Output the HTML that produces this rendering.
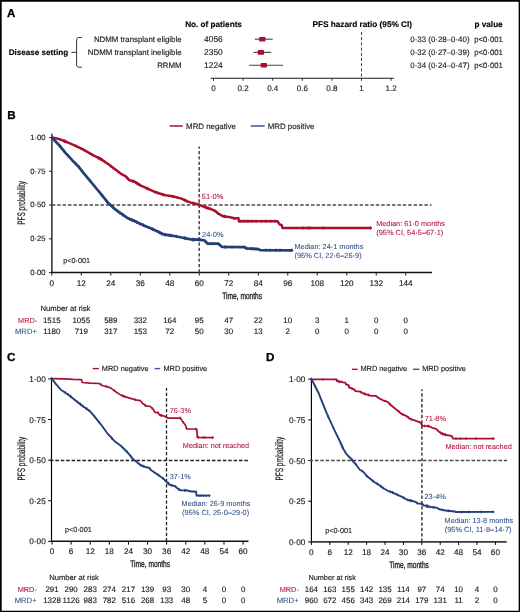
<!DOCTYPE html>
<html><head><meta charset="utf-8"><title>MRD PFS figure</title>
<style>
html,body{margin:0;padding:0;background:#fff;}
body{width:520px;height:612px;overflow:hidden;}
svg{display:block;font-family:"Liberation Sans", sans-serif;will-change:transform;text-rendering:geometricPrecision;}
</style></head>
<body>
<svg width="520" height="612" viewBox="0 0 520 612">
<rect width="520" height="612" fill="#fff"/>
<path d="M0,0H520V612H0Z M1.7,1.7V610.65H518.65V1.7Z" fill="#000" fill-rule="evenodd"/>
<text x="7.0" y="17.0" font-size="11.6" text-anchor="start" font-weight="bold" fill="#000" stroke="#000" stroke-width="0.3">A</text>
<text x="7.3" y="118.8" font-size="11.6" text-anchor="start" font-weight="bold" fill="#000" stroke="#000" stroke-width="0.3">B</text>
<text x="7.0" y="361.3" font-size="11.6" text-anchor="start" font-weight="bold" fill="#000" stroke="#000" stroke-width="0.3">C</text>
<text x="265.9" y="361.3" font-size="11.6" text-anchor="start" font-weight="bold" fill="#000" stroke="#000" stroke-width="0.3">D</text>
<text x="185.16" y="27.0" font-size="8.19" text-anchor="start" font-weight="bold" fill="#000"  stroke="#000" stroke-width="0.14">No. of patients</text>
<text x="312.46" y="27.0" font-size="8.23" text-anchor="start" font-weight="bold" fill="#000"  stroke="#000" stroke-width="0.14">PFS hazard ratio (95% CI)</text>
<text x="474.56" y="26.8" font-size="8.16" text-anchor="start" font-weight="bold" fill="#000"  stroke="#000" stroke-width="0.14">p value</text>
<text x="8.66" y="54.9" font-size="8.12" text-anchor="start" font-weight="bold" fill="#000"  stroke="#000" stroke-width="0.14">Disease setting</text>
<text x="181.55" y="41.6" font-size="7.85" text-anchor="end" font-weight="normal" fill="#1a1a1a"  stroke="#1a1a1a" stroke-width="0.14">NDMM transplant eligible</text>
<text x="204.1" y="41.6" font-size="8.4" text-anchor="start" font-weight="normal" fill="#1a1a1a"  stroke="#1a1a1a" stroke-width="0.14">4056</text>
<text x="410.3" y="42.2" font-size="7.9" text-anchor="start" font-weight="normal" fill="#1a1a1a"  stroke="#1a1a1a" stroke-width="0.14">0·33 (0·28–0·40)</text>
<text x="474.2" y="42.2" font-size="7.78" text-anchor="start" font-weight="normal" fill="#1a1a1a"  stroke="#1a1a1a" stroke-width="0.14">p&lt;0·001</text>
<line x1="254.94" y1="39.2" x2="272.7" y2="39.2" stroke="#444" stroke-width="1.1" />
<rect x="259.1" y="36.9" width="6.4" height="4.6" rx="0.8" fill="#a8102f"/>
<text x="181.55" y="54.8" font-size="7.85" text-anchor="end" font-weight="normal" fill="#1a1a1a"  stroke="#1a1a1a" stroke-width="0.14">NDMM transplant ineligible</text>
<text x="204.1" y="54.8" font-size="8.4" text-anchor="start" font-weight="normal" fill="#1a1a1a"  stroke="#1a1a1a" stroke-width="0.14">2350</text>
<text x="410.3" y="55.4" font-size="7.9" text-anchor="start" font-weight="normal" fill="#1a1a1a"  stroke="#1a1a1a" stroke-width="0.14">0·32 (0·27–0·39)</text>
<text x="474.2" y="55.4" font-size="7.78" text-anchor="start" font-weight="normal" fill="#1a1a1a"  stroke="#1a1a1a" stroke-width="0.14">p&lt;0·001</text>
<line x1="253.46" y1="52.4" x2="271.22" y2="52.4" stroke="#444" stroke-width="1.1" />
<rect x="257.7" y="50.1" width="6.4" height="4.6" rx="0.8" fill="#a8102f"/>
<text x="181.55" y="67.7" font-size="7.85" text-anchor="end" font-weight="normal" fill="#1a1a1a"  stroke="#1a1a1a" stroke-width="0.14">RRMM</text>
<text x="204.1" y="67.7" font-size="8.4" text-anchor="start" font-weight="normal" fill="#1a1a1a"  stroke="#1a1a1a" stroke-width="0.14">1224</text>
<text x="410.3" y="68.3" font-size="7.9" text-anchor="start" font-weight="normal" fill="#1a1a1a"  stroke="#1a1a1a" stroke-width="0.14">0·34 (0·24–0·47)</text>
<text x="474.2" y="68.3" font-size="7.78" text-anchor="start" font-weight="normal" fill="#1a1a1a"  stroke="#1a1a1a" stroke-width="0.14">p&lt;0·001</text>
<line x1="249.01999999999998" y1="65.3" x2="283.06" y2="65.3" stroke="#444" stroke-width="1.1" />
<rect x="260.6" y="63.0" width="6.4" height="4.6" rx="0.8" fill="#a8102f"/>
<path d="M81.9,37.5 H78.8 Q76.6,37.5 76.6,39.7 V65.0 Q76.6,67.2 78.8,67.2 H81.9 M71.4,52.3 H76.6" fill="none" stroke="#333" stroke-width="1"/>
<line x1="210.6" y1="78.2" x2="393.8" y2="78.2" stroke="#1a1a1a" stroke-width="1.1" />
<line x1="213.5" y1="78.2" x2="213.5" y2="80.8" stroke="#1a1a1a" stroke-width="0.9" />
<text x="213.5" y="91.3" font-size="8.0" text-anchor="middle" font-weight="normal" fill="#1a1a1a"  stroke="#1a1a1a" stroke-width="0.14">0</text>
<line x1="243.1" y1="78.2" x2="243.1" y2="80.8" stroke="#1a1a1a" stroke-width="0.9" />
<text x="243.1" y="91.3" font-size="8.0" text-anchor="middle" font-weight="normal" fill="#1a1a1a"  stroke="#1a1a1a" stroke-width="0.14">0.2</text>
<line x1="272.7" y1="78.2" x2="272.7" y2="80.8" stroke="#1a1a1a" stroke-width="0.9" />
<text x="272.7" y="91.3" font-size="8.0" text-anchor="middle" font-weight="normal" fill="#1a1a1a"  stroke="#1a1a1a" stroke-width="0.14">0.4</text>
<line x1="302.3" y1="78.2" x2="302.3" y2="80.8" stroke="#1a1a1a" stroke-width="0.9" />
<text x="302.3" y="91.3" font-size="8.0" text-anchor="middle" font-weight="normal" fill="#1a1a1a"  stroke="#1a1a1a" stroke-width="0.14">0.6</text>
<line x1="331.9" y1="78.2" x2="331.9" y2="80.8" stroke="#1a1a1a" stroke-width="0.9" />
<text x="331.9" y="91.3" font-size="8.0" text-anchor="middle" font-weight="normal" fill="#1a1a1a"  stroke="#1a1a1a" stroke-width="0.14">0.8</text>
<line x1="361.5" y1="78.2" x2="361.5" y2="80.8" stroke="#1a1a1a" stroke-width="0.9" />
<text x="361.5" y="91.3" font-size="8.0" text-anchor="middle" font-weight="normal" fill="#1a1a1a"  stroke="#1a1a1a" stroke-width="0.14">1</text>
<line x1="391.1" y1="78.2" x2="391.1" y2="80.8" stroke="#1a1a1a" stroke-width="0.9" />
<text x="391.1" y="91.3" font-size="8.0" text-anchor="middle" font-weight="normal" fill="#1a1a1a"  stroke="#1a1a1a" stroke-width="0.14">1.2</text>
<line x1="361.5" y1="32" x2="361.5" y2="78" stroke="#2a2a2a" stroke-width="0.9" stroke-dasharray="3,2.2"/>
<line x1="51.9" y1="133.7" x2="51.9" y2="273.1" stroke="#1c1c1c" stroke-width="1.4" />
<line x1="49.1" y1="137.5" x2="51.9" y2="137.5" stroke="#1c1c1c" stroke-width="1" />
<text x="45.6" y="139.9" font-size="7.7" text-anchor="end" font-weight="normal" fill="#1a1a1a"  stroke="#1a1a1a" stroke-width="0.14">1·00</text>
<line x1="49.1" y1="171.275" x2="51.9" y2="171.275" stroke="#1c1c1c" stroke-width="1" />
<text x="45.6" y="173.675" font-size="7.7" text-anchor="end" font-weight="normal" fill="#1a1a1a"  stroke="#1a1a1a" stroke-width="0.14">0·75</text>
<line x1="49.1" y1="205.05" x2="51.9" y2="205.05" stroke="#1c1c1c" stroke-width="1" />
<text x="45.6" y="207.45000000000002" font-size="7.7" text-anchor="end" font-weight="normal" fill="#1a1a1a"  stroke="#1a1a1a" stroke-width="0.14">0·50</text>
<line x1="49.1" y1="238.82500000000002" x2="51.9" y2="238.82500000000002" stroke="#1c1c1c" stroke-width="1" />
<text x="45.6" y="241.22500000000002" font-size="7.7" text-anchor="end" font-weight="normal" fill="#1a1a1a"  stroke="#1a1a1a" stroke-width="0.14">0·25</text>
<line x1="49.1" y1="272.6" x2="51.9" y2="272.6" stroke="#1c1c1c" stroke-width="1" />
<text x="45.6" y="275.0" font-size="7.7" text-anchor="end" font-weight="normal" fill="#1a1a1a"  stroke="#1a1a1a" stroke-width="0.14">0·00</text>
<line x1="51.4" y1="272.6" x2="432" y2="272.6" stroke="#111" stroke-width="1.5" />
<line x1="51.8" y1="272.6" x2="51.8" y2="275.6" stroke="#1c1c1c" stroke-width="1" />
<text x="51.8" y="286.1" font-size="8.2" text-anchor="middle" font-weight="normal" fill="#1a1a1a"  stroke="#1a1a1a" stroke-width="0.14">0</text>
<line x1="81.29599999999999" y1="272.6" x2="81.29599999999999" y2="275.6" stroke="#1c1c1c" stroke-width="1" />
<text x="81.29599999999999" y="286.1" font-size="8.2" text-anchor="middle" font-weight="normal" fill="#1a1a1a"  stroke="#1a1a1a" stroke-width="0.14">12</text>
<line x1="110.792" y1="272.6" x2="110.792" y2="275.6" stroke="#1c1c1c" stroke-width="1" />
<text x="110.792" y="286.1" font-size="8.2" text-anchor="middle" font-weight="normal" fill="#1a1a1a"  stroke="#1a1a1a" stroke-width="0.14">24</text>
<line x1="140.288" y1="272.6" x2="140.288" y2="275.6" stroke="#1c1c1c" stroke-width="1" />
<text x="140.288" y="286.1" font-size="8.2" text-anchor="middle" font-weight="normal" fill="#1a1a1a"  stroke="#1a1a1a" stroke-width="0.14">36</text>
<line x1="169.784" y1="272.6" x2="169.784" y2="275.6" stroke="#1c1c1c" stroke-width="1" />
<text x="169.784" y="286.1" font-size="8.2" text-anchor="middle" font-weight="normal" fill="#1a1a1a"  stroke="#1a1a1a" stroke-width="0.14">48</text>
<line x1="199.28000000000003" y1="272.6" x2="199.28000000000003" y2="275.6" stroke="#1c1c1c" stroke-width="1" />
<text x="199.28000000000003" y="286.1" font-size="8.2" text-anchor="middle" font-weight="normal" fill="#1a1a1a"  stroke="#1a1a1a" stroke-width="0.14">60</text>
<line x1="228.776" y1="272.6" x2="228.776" y2="275.6" stroke="#1c1c1c" stroke-width="1" />
<text x="228.776" y="286.1" font-size="8.2" text-anchor="middle" font-weight="normal" fill="#1a1a1a"  stroke="#1a1a1a" stroke-width="0.14">72</text>
<line x1="258.272" y1="272.6" x2="258.272" y2="275.6" stroke="#1c1c1c" stroke-width="1" />
<text x="258.272" y="286.1" font-size="8.2" text-anchor="middle" font-weight="normal" fill="#1a1a1a"  stroke="#1a1a1a" stroke-width="0.14">84</text>
<line x1="287.76800000000003" y1="272.6" x2="287.76800000000003" y2="275.6" stroke="#1c1c1c" stroke-width="1" />
<text x="287.76800000000003" y="286.1" font-size="8.2" text-anchor="middle" font-weight="normal" fill="#1a1a1a"  stroke="#1a1a1a" stroke-width="0.14">96</text>
<line x1="317.264" y1="272.6" x2="317.264" y2="275.6" stroke="#1c1c1c" stroke-width="1" />
<text x="317.264" y="286.1" font-size="8.2" text-anchor="middle" font-weight="normal" fill="#1a1a1a"  stroke="#1a1a1a" stroke-width="0.14">108</text>
<line x1="346.76000000000005" y1="272.6" x2="346.76000000000005" y2="275.6" stroke="#1c1c1c" stroke-width="1" />
<text x="346.76000000000005" y="286.1" font-size="8.2" text-anchor="middle" font-weight="normal" fill="#1a1a1a"  stroke="#1a1a1a" stroke-width="0.14">120</text>
<line x1="376.25600000000003" y1="272.6" x2="376.25600000000003" y2="275.6" stroke="#1c1c1c" stroke-width="1" />
<text x="376.25600000000003" y="286.1" font-size="8.2" text-anchor="middle" font-weight="normal" fill="#1a1a1a"  stroke="#1a1a1a" stroke-width="0.14">132</text>
<line x1="405.752" y1="272.6" x2="405.752" y2="275.6" stroke="#1c1c1c" stroke-width="1" />
<text x="405.752" y="286.1" font-size="8.2" text-anchor="middle" font-weight="normal" fill="#1a1a1a"  stroke="#1a1a1a" stroke-width="0.14">144</text>
<line x1="51.8" y1="204.9" x2="431.5" y2="204.9" stroke="#484848" stroke-width="1.5" stroke-dasharray="3.5,1.9"/>
<line x1="199.2" y1="272.6" x2="199.2" y2="146.5" stroke="#484848" stroke-width="1.5" stroke-dasharray="3.3,2.08"/>
<text transform="translate(242.2,298.6) scale(0.71,1)" x="0" y="0" font-size="9.3" text-anchor="middle" fill="#1a1a1a" stroke="#1a1a1a" stroke-width="0.32">Time, months</text>
<text transform="translate(24.5,202.9) rotate(-90) scale(0.60,1)" x="0" y="0" font-size="10.8" text-anchor="middle" fill="#1a1a1a" stroke="#1a1a1a" stroke-width="0.22">PFS probability</text>
<line x1="169.6" y1="126.0" x2="182.7" y2="126.0" stroke="#a8102f" stroke-width="1.5" />
<text x="186.12" y="128.5" font-size="7.86" text-anchor="start" font-weight="normal" fill="#1a1a1a"  stroke="#1a1a1a" stroke-width="0.14">MRD negative</text>
<line x1="250.8" y1="126.0" x2="264.7" y2="126.0" stroke="#34528f" stroke-width="1.5" />
<text x="267.72" y="128.5" font-size="7.86" text-anchor="start" font-weight="normal" fill="#1a1a1a"  stroke="#1a1a1a" stroke-width="0.14">MRD positive</text>
<polyline points="52.0,137.6 56.0,138.3 60.1,139.4 68.2,142.7 76.2,146.1 84.3,150.1 92.4,154.8 100.5,158.9 108.5,164.3 115.3,169.6 122.0,174.4 125.4,176.2 129.2,180.0 131.2,180.8 134.2,181.5 140.4,185.4 148.1,188.9 155.8,192.3 163.5,194.8 167.3,195.6 173.8,196.6 181.5,198.6 186.2,200.8 190.8,202.6 196.9,204.0 200.4,205.4 204.2,206.9 210.4,208.9 215.0,210.8 218.1,213.5 222.7,216.2 228.8,216.9 235.0,218.5 236.9,218.1 238.5,218.3 238.8,221.2 277.5,221.2 278.5,222.7 279.6,224.4 281.7,225.2 282.5,227.9 370.8,228.1" fill="none" stroke="#a8102f" stroke-width="2.5" stroke-linejoin="round" stroke-linecap="round"/>
<polyline points="52.0,137.8 58.7,144.7 65.5,152.8 72.2,160.2 78.9,167.0 83.0,172.3 89.7,180.4 96.4,188.5 103.1,196.6 108.5,203.3 115.3,209.4 119.2,212.3 122.0,214.2 126.9,217.7 130.7,219.4 134.6,221.0 138.5,223.0 142.3,224.8 146.2,226.5 150.0,228.1 153.9,229.8 157.7,231.5 160.6,233.0 163.5,234.4 168.3,235.1 173.1,235.8 182.7,237.7 192.3,239.6 199.0,239.6 204.2,240.3 206.5,242.5 207.7,243.7 218.1,243.7 220.4,245.4 222.1,247.0 244.6,247.2 246.3,248.4 258.5,249.1 260.0,250.1 292.0,250.3" fill="none" stroke="#233f78" stroke-width="2.7" stroke-linejoin="round" stroke-linecap="round"/>
<path d="M60.4,137.9V141.1M63.8,139.3V142.5M64.5,139.6V142.8M65.0,139.8V143.0M65.1,139.8V143.0M65.4,139.9V143.1M66.0,140.2V143.4M76.4,144.6V147.8M81.2,146.9V150.1M83.5,148.1V151.3M92.5,153.3V156.5M97.9,156.0V159.2M98.3,156.2V159.4M98.8,156.4V159.6M100.0,157.1V160.3M100.4,157.3V160.5M100.8,157.5V160.7M102.5,158.6V161.8M104.6,160.1V163.3M110.7,164.4V167.6M113.1,166.3V169.5M118.2,170.1V173.3M126.7,175.9V179.1M132.5,179.5V182.7M133.9,179.8V183.0M133.9,179.8V183.0M135.7,180.9V184.1M136.6,181.4V184.6M137.9,182.3V185.5M138.7,182.7V185.9M140.4,183.8V187.0M146.7,186.7V189.9M146.8,186.7V189.9M148.4,187.4V190.6M154.7,190.2V193.4M157.4,191.2V194.4M162.8,193.0V196.2M163.1,193.1V196.3M172.4,194.8V198.0M174.0,195.1V198.3M177.3,195.9V199.1M184.5,198.4V201.6M186.3,199.2V202.4M186.3,199.2V202.4M193.4,201.6V204.8M193.7,201.7V204.9M198.0,202.9V206.1M199.5,203.5V206.7M205.3,205.6V208.8M206.3,206.0V209.2M206.6,206.1V209.3M208.1,206.6V209.8M208.3,206.6V209.8M210.5,207.3V210.5M214.4,209.0V212.2M217.7,211.6V214.8M223.9,214.7V217.9M224.4,214.8V218.0M225.4,214.9V218.1M233.7,216.6V219.8" stroke="#a8102f" stroke-width="0.9" fill="none"/>
<path d="M239.0,219.5V222.9M241.0,219.5V222.9M244.0,219.5V222.9M247.0,219.5V222.9M249.0,219.5V222.9M252.0,219.5V222.9M256.0,219.5V222.9M262.0,219.5V222.9M266.0,219.5V222.9M271.0,219.5V222.9M275.0,219.5V222.9M302.8,226.2V229.6M308.0,226.3V229.7M310.0,226.3V229.7M323.0,226.3V229.7M370.3,226.4V229.8" stroke="#a8102f" stroke-width="0.9" fill="none"/>
<path d="M59.4,143.9V147.3M60.0,144.5V147.9M61.2,145.9V149.3M64.1,149.5V152.9M68.2,154.1V157.5M75.7,162.0V165.4M78.8,165.2V168.6M79.2,165.7V169.1M82.2,169.5V172.9M90.0,179.1V182.5M94.6,184.7V188.1M100.4,191.6V195.0M101.9,193.4V196.8M102.8,194.6V198.0M106.9,199.7V203.1M110.7,203.6V207.0M112.7,205.3V208.7M118.0,209.7V213.1M120.1,211.2V214.6M122.4,212.8V216.2M122.9,213.2V216.6M129.5,217.2V220.6M131.7,218.1V221.5M132.4,218.4V221.8M134.4,219.2V222.6M136.7,220.4V223.8M139.7,221.9V225.3M143.3,223.5V226.9M143.4,223.6V227.0M152.4,227.5V230.9M153.1,227.8V231.2M159.0,230.5V233.9M160.1,231.0V234.4M161.8,231.9V235.3M162.0,232.0V235.4M164.6,232.9V236.3M165.9,233.0V236.4M169.7,233.6V237.0M170.7,233.8V237.2M176.3,234.7V238.1M184.4,236.3V239.7M184.7,236.4V239.8M186.5,236.8V240.2M192.5,237.9V241.3M192.7,237.9V241.3M193.7,237.9V241.3M194.5,237.9V241.3M197.3,237.9V241.3M199.3,237.9V241.3M199.8,238.0V241.4" stroke="#233f78" stroke-width="0.9" fill="none"/>
<path d="M206.0,240.3V243.7M211.0,242.0V245.4M214.0,242.0V245.4M219.0,242.7V246.1M224.5,245.3V248.7M226.5,245.3V248.7M232.0,245.4V248.8M244.6,245.5V248.9M247.0,246.7V250.1M251.0,247.0V250.4M253.0,247.1V250.5M256.0,247.3V250.7M266.0,248.4V251.8M270.0,248.5V251.9M276.0,248.5V251.9M280.0,248.5V251.9M291.5,248.6V252.0" stroke="#233f78" stroke-width="0.9" fill="none"/>
<text x="201.85" y="199.2" font-size="7.45" text-anchor="start" font-weight="normal" fill="#b3133c"  stroke="#b3133c" stroke-width="0.07">51·0%</text>
<text x="202.08" y="236.5" font-size="7.45" text-anchor="start" font-weight="normal" fill="#32508c"  stroke="#32508c" stroke-width="0.07">24·0%</text>
<text x="376.16" y="226.0" font-size="7.33" text-anchor="start" font-weight="normal" fill="#b3133c"  stroke="#b3133c" stroke-width="0.07">Median: 61·0 months</text>
<text x="376.2" y="235.2" font-size="7.42" text-anchor="start" font-weight="normal" fill="#b3133c"  stroke="#b3133c" stroke-width="0.07">(95% CI, 54·5–67·1)</text>
<text x="294.47" y="249.0" font-size="7.33" text-anchor="start" font-weight="normal" fill="#32508c"  stroke="#32508c" stroke-width="0.07">Median: 24·1 months</text>
<text x="294.5" y="257.7" font-size="7.42" text-anchor="start" font-weight="normal" fill="#32508c"  stroke="#32508c" stroke-width="0.07">(95% CI, 22·6–26·9)</text>
<text x="63.21" y="262.8" font-size="7.27" text-anchor="start" font-weight="normal" fill="#1a1a1a"  stroke="#1a1a1a" stroke-width="0.14">p&lt;0·001</text>
<text x="40.43" y="311.3" font-size="7.7" text-anchor="start" font-weight="normal" fill="#1a1a1a"  stroke="#1a1a1a" stroke-width="0.14">Number at risk</text>
<text x="18.1" y="322.7" font-size="7.3" text-anchor="start" font-weight="normal" fill="#b3133c"  stroke="#b3133c" stroke-width="0.07">MRD-</text>
<text x="15.0" y="334.2" font-size="7.65" text-anchor="start" font-weight="normal" fill="#32508c"  stroke="#32508c" stroke-width="0.07">MRD+</text>
<text x="51.8" y="322.7" font-size="7.95" text-anchor="middle" font-weight="normal" fill="#1a1a1a"  stroke="#1a1a1a" stroke-width="0.14">1515</text>
<text x="51.8" y="334.2" font-size="7.95" text-anchor="middle" font-weight="normal" fill="#1a1a1a"  stroke="#1a1a1a" stroke-width="0.14">1180</text>
<text x="81.29599999999999" y="322.7" font-size="7.95" text-anchor="middle" font-weight="normal" fill="#1a1a1a"  stroke="#1a1a1a" stroke-width="0.14">1055</text>
<text x="81.29599999999999" y="334.2" font-size="7.95" text-anchor="middle" font-weight="normal" fill="#1a1a1a"  stroke="#1a1a1a" stroke-width="0.14">719</text>
<text x="110.792" y="322.7" font-size="7.95" text-anchor="middle" font-weight="normal" fill="#1a1a1a"  stroke="#1a1a1a" stroke-width="0.14">589</text>
<text x="110.792" y="334.2" font-size="7.95" text-anchor="middle" font-weight="normal" fill="#1a1a1a"  stroke="#1a1a1a" stroke-width="0.14">317</text>
<text x="140.288" y="322.7" font-size="7.95" text-anchor="middle" font-weight="normal" fill="#1a1a1a"  stroke="#1a1a1a" stroke-width="0.14">332</text>
<text x="140.288" y="334.2" font-size="7.95" text-anchor="middle" font-weight="normal" fill="#1a1a1a"  stroke="#1a1a1a" stroke-width="0.14">153</text>
<text x="169.784" y="322.7" font-size="7.95" text-anchor="middle" font-weight="normal" fill="#1a1a1a"  stroke="#1a1a1a" stroke-width="0.14">164</text>
<text x="169.784" y="334.2" font-size="7.95" text-anchor="middle" font-weight="normal" fill="#1a1a1a"  stroke="#1a1a1a" stroke-width="0.14">72</text>
<text x="199.28000000000003" y="322.7" font-size="7.95" text-anchor="middle" font-weight="normal" fill="#1a1a1a"  stroke="#1a1a1a" stroke-width="0.14">95</text>
<text x="199.28000000000003" y="334.2" font-size="7.95" text-anchor="middle" font-weight="normal" fill="#1a1a1a"  stroke="#1a1a1a" stroke-width="0.14">50</text>
<text x="228.776" y="322.7" font-size="7.95" text-anchor="middle" font-weight="normal" fill="#1a1a1a"  stroke="#1a1a1a" stroke-width="0.14">47</text>
<text x="228.776" y="334.2" font-size="7.95" text-anchor="middle" font-weight="normal" fill="#1a1a1a"  stroke="#1a1a1a" stroke-width="0.14">30</text>
<text x="258.272" y="322.7" font-size="7.95" text-anchor="middle" font-weight="normal" fill="#1a1a1a"  stroke="#1a1a1a" stroke-width="0.14">22</text>
<text x="258.272" y="334.2" font-size="7.95" text-anchor="middle" font-weight="normal" fill="#1a1a1a"  stroke="#1a1a1a" stroke-width="0.14">13</text>
<text x="287.76800000000003" y="322.7" font-size="7.95" text-anchor="middle" font-weight="normal" fill="#1a1a1a"  stroke="#1a1a1a" stroke-width="0.14">10</text>
<text x="287.76800000000003" y="334.2" font-size="7.95" text-anchor="middle" font-weight="normal" fill="#1a1a1a"  stroke="#1a1a1a" stroke-width="0.14">2</text>
<text x="317.264" y="322.7" font-size="7.95" text-anchor="middle" font-weight="normal" fill="#1a1a1a"  stroke="#1a1a1a" stroke-width="0.14">3</text>
<text x="317.264" y="334.2" font-size="7.95" text-anchor="middle" font-weight="normal" fill="#1a1a1a"  stroke="#1a1a1a" stroke-width="0.14">0</text>
<text x="346.76000000000005" y="322.7" font-size="7.95" text-anchor="middle" font-weight="normal" fill="#1a1a1a"  stroke="#1a1a1a" stroke-width="0.14">1</text>
<text x="346.76000000000005" y="334.2" font-size="7.95" text-anchor="middle" font-weight="normal" fill="#1a1a1a"  stroke="#1a1a1a" stroke-width="0.14">0</text>
<text x="376.25600000000003" y="322.7" font-size="7.95" text-anchor="middle" font-weight="normal" fill="#1a1a1a"  stroke="#1a1a1a" stroke-width="0.14">0</text>
<text x="376.25600000000003" y="334.2" font-size="7.95" text-anchor="middle" font-weight="normal" fill="#1a1a1a"  stroke="#1a1a1a" stroke-width="0.14">0</text>
<text x="405.752" y="322.7" font-size="7.95" text-anchor="middle" font-weight="normal" fill="#1a1a1a"  stroke="#1a1a1a" stroke-width="0.14">0</text>
<text x="405.752" y="334.2" font-size="7.95" text-anchor="middle" font-weight="normal" fill="#1a1a1a"  stroke="#1a1a1a" stroke-width="0.14">0</text>
<line x1="51.5" y1="377.4" x2="51.5" y2="541.85" stroke="#000" stroke-width="1.15" />
<line x1="48.2" y1="378.9" x2="51.5" y2="378.9" stroke="#000" stroke-width="1" />
<text x="45.7" y="382.0" font-size="8.2" text-anchor="end" font-weight="normal" fill="#1a1a1a"  stroke="#1a1a1a" stroke-width="0.14">1·00</text>
<line x1="48.2" y1="419.5125" x2="51.5" y2="419.5125" stroke="#000" stroke-width="1" />
<text x="45.7" y="422.6125" font-size="8.2" text-anchor="end" font-weight="normal" fill="#1a1a1a"  stroke="#1a1a1a" stroke-width="0.14">0·75</text>
<line x1="48.2" y1="460.125" x2="51.5" y2="460.125" stroke="#000" stroke-width="1" />
<text x="45.7" y="463.225" font-size="8.2" text-anchor="end" font-weight="normal" fill="#1a1a1a"  stroke="#1a1a1a" stroke-width="0.14">0·50</text>
<line x1="48.2" y1="500.7375" x2="51.5" y2="500.7375" stroke="#000" stroke-width="1" />
<text x="45.7" y="503.83750000000003" font-size="8.2" text-anchor="end" font-weight="normal" fill="#1a1a1a"  stroke="#1a1a1a" stroke-width="0.14">0·25</text>
<line x1="48.2" y1="541.35" x2="51.5" y2="541.35" stroke="#000" stroke-width="1" />
<text x="45.7" y="544.45" font-size="8.2" text-anchor="end" font-weight="normal" fill="#1a1a1a"  stroke="#1a1a1a" stroke-width="0.14">0·00</text>
<line x1="51.0" y1="541.35" x2="248.5" y2="541.35" stroke="#111" stroke-width="1.5" />
<line x1="52.0" y1="541.35" x2="52.0" y2="544.5500000000001" stroke="#000" stroke-width="1" />
<text x="52.0" y="554.3" font-size="8.2" text-anchor="middle" font-weight="normal" fill="#1a1a1a"  stroke="#1a1a1a" stroke-width="0.14">0</text>
<line x1="71.11" y1="541.35" x2="71.11" y2="544.5500000000001" stroke="#000" stroke-width="1" />
<text x="71.11" y="554.3" font-size="8.2" text-anchor="middle" font-weight="normal" fill="#1a1a1a"  stroke="#1a1a1a" stroke-width="0.14">6</text>
<line x1="90.22" y1="541.35" x2="90.22" y2="544.5500000000001" stroke="#000" stroke-width="1" />
<text x="90.22" y="554.3" font-size="8.2" text-anchor="middle" font-weight="normal" fill="#1a1a1a"  stroke="#1a1a1a" stroke-width="0.14">12</text>
<line x1="109.33" y1="541.35" x2="109.33" y2="544.5500000000001" stroke="#000" stroke-width="1" />
<text x="109.33" y="554.3" font-size="8.2" text-anchor="middle" font-weight="normal" fill="#1a1a1a"  stroke="#1a1a1a" stroke-width="0.14">18</text>
<line x1="128.44" y1="541.35" x2="128.44" y2="544.5500000000001" stroke="#000" stroke-width="1" />
<text x="128.44" y="554.3" font-size="8.2" text-anchor="middle" font-weight="normal" fill="#1a1a1a"  stroke="#1a1a1a" stroke-width="0.14">24</text>
<line x1="147.55" y1="541.35" x2="147.55" y2="544.5500000000001" stroke="#000" stroke-width="1" />
<text x="147.55" y="554.3" font-size="8.2" text-anchor="middle" font-weight="normal" fill="#1a1a1a"  stroke="#1a1a1a" stroke-width="0.14">30</text>
<line x1="166.66" y1="541.35" x2="166.66" y2="544.5500000000001" stroke="#000" stroke-width="1" />
<text x="166.66" y="554.3" font-size="8.2" text-anchor="middle" font-weight="normal" fill="#1a1a1a"  stroke="#1a1a1a" stroke-width="0.14">36</text>
<line x1="185.77" y1="541.35" x2="185.77" y2="544.5500000000001" stroke="#000" stroke-width="1" />
<text x="185.77" y="554.3" font-size="8.2" text-anchor="middle" font-weight="normal" fill="#1a1a1a"  stroke="#1a1a1a" stroke-width="0.14">42</text>
<line x1="204.88" y1="541.35" x2="204.88" y2="544.5500000000001" stroke="#000" stroke-width="1" />
<text x="204.88" y="554.3" font-size="8.2" text-anchor="middle" font-weight="normal" fill="#1a1a1a"  stroke="#1a1a1a" stroke-width="0.14">48</text>
<line x1="223.99" y1="541.35" x2="223.99" y2="544.5500000000001" stroke="#000" stroke-width="1" />
<text x="223.99" y="554.3" font-size="8.2" text-anchor="middle" font-weight="normal" fill="#1a1a1a"  stroke="#1a1a1a" stroke-width="0.14">54</text>
<line x1="243.1" y1="541.35" x2="243.1" y2="544.5500000000001" stroke="#000" stroke-width="1" />
<text x="243.1" y="554.3" font-size="8.2" text-anchor="middle" font-weight="normal" fill="#1a1a1a"  stroke="#1a1a1a" stroke-width="0.14">60</text>
<line x1="50.0" y1="460.5" x2="247.9" y2="460.5" stroke="#1e1e1e" stroke-width="1.3" stroke-dasharray="3.5,1.9"/>
<line x1="166.5" y1="541.35" x2="166.5" y2="388.1" stroke="#1e1e1e" stroke-width="1.3" stroke-dasharray="3.3,2.08"/>
<text transform="translate(150.2,567.4) scale(0.71,1)" x="0" y="0" font-size="9.3" text-anchor="middle" fill="#1a1a1a" stroke="#1a1a1a" stroke-width="0.32">Time, months</text>
<text transform="translate(24.5,458.6) rotate(-90) scale(0.60,1)" x="0" y="0" font-size="10.8" text-anchor="middle" fill="#1a1a1a" stroke="#1a1a1a" stroke-width="0.22">PFS probability</text>
<line x1="92.7" y1="368.6" x2="98.8" y2="368.6" stroke="#a8102f" stroke-width="1.4" />
<text x="101.86" y="370.5" font-size="7.37" text-anchor="start" font-weight="normal" fill="#1a1a1a"  stroke="#1a1a1a" stroke-width="0.14">MRD negative</text>
<line x1="154.5" y1="368.6" x2="160.2" y2="368.6" stroke="#3a5a98" stroke-width="1.4" />
<text x="163.46" y="370.5" font-size="7.37" text-anchor="start" font-weight="normal" fill="#1a1a1a"  stroke="#1a1a1a" stroke-width="0.14">MRD positive</text>
<polyline points="51.8,378.6 65.4,378.9 73.1,379.4 81.5,379.7 82.3,382.5 90.0,383.1 99.2,383.5 102.3,385.5 108.5,387.1 111.5,388.6 116.2,392.0 120.8,395.1 125.4,396.9 129.6,398.1 135.8,399.9 140.4,400.7 142.7,403.5 145.8,405.8 150.4,406.5 153.5,409.6 155.0,412.4 158.1,412.7 159.6,415.0 163.5,415.8 166.2,417.3 168.1,418.1 180.4,418.1 181.9,420.4 184.2,423.5 185.8,425.8 186.5,428.8 196.8,429.0 197.3,437.4 213.1,437.6" fill="none" stroke="#a8102f" stroke-width="1.7" stroke-linejoin="round" stroke-linecap="round"/>
<polyline points="51.8,378.6 56.2,384.3 60.8,389.7 68.5,394.8 74.6,399.7 82.3,405.8 90.0,411.2 94.6,416.6 100.8,424.3 106.9,432.8 114.6,441.2 120.8,445.8 126.9,451.7 132.7,458.7 140.4,465.0 146.2,467.3 149.0,467.7 151.9,470.8 157.7,474.6 163.5,478.8 166.3,481.7 170.2,485.0 175.0,486.2 178.8,489.4 180.8,490.4 187.5,490.4 189.4,491.3 196.2,491.7 196.5,495.6 209.6,495.6" fill="none" stroke="#233f78" stroke-width="1.9" stroke-linejoin="round" stroke-linecap="round"/>
<path d="M101.3,383.5V386.1M106.3,385.2V387.8M114.5,389.4V392.0M122.5,394.5V397.1M122.8,394.6V397.2M124.9,395.4V398.0M135.5,398.5V401.1M145.1,404.0V406.6M145.7,404.4V407.0M152.2,407.0V409.6M158.0,411.4V414.0M160.1,413.8V416.4M160.9,414.0V416.6M161.4,414.1V416.7M180.3,416.8V419.4M180.4,416.8V419.4M183.3,421.0V423.6M195.6,427.7V430.3" stroke="#a8102f" stroke-width="0.9" fill="none"/>
<path d="M198.5,436.0V438.8M203.0,436.1V438.9M205.0,436.1V438.9M212.6,436.2V439.0" stroke="#a8102f" stroke-width="0.9" fill="none"/>
<path d="M65.3,391.2V394.2M68.1,393.1V396.1M70.4,394.9V397.9M70.9,395.2V398.2M77.7,400.7V403.7M80.2,402.6V405.6M80.9,403.2V406.2M83.1,404.8V407.8M86.0,406.9V409.9M87.1,407.6V410.6M89.0,409.0V412.0M94.7,415.3V418.3M99.4,421.0V424.0M111.4,436.3V439.3M112.2,437.1V440.1M126.8,450.1V453.1M131.1,455.3V458.3M140.8,463.7V466.7M143.8,464.8V467.8M150.0,467.3V470.3M158.5,473.7V476.7M163.1,477.0V480.0M168.1,481.7V484.7M168.1,481.7V484.7M168.9,482.4V485.4M172.0,484.0V487.0M175.7,485.2V488.2M179.2,488.1V491.1M184.5,488.9V491.9M185.8,488.9V491.9" stroke="#233f78" stroke-width="0.9" fill="none"/>
<path d="M199.0,494.2V497.0M201.0,494.2V497.0M203.5,494.2V497.0M206.0,494.2V497.0M209.2,494.2V497.0" stroke="#233f78" stroke-width="0.9" fill="none"/>
<text x="169.79" y="413.0" font-size="7.3" text-anchor="start" font-weight="normal" fill="#b3133c"  stroke="#b3133c" stroke-width="0.07">76·3%</text>
<text x="169.63" y="479.4" font-size="7.3" text-anchor="start" font-weight="normal" fill="#32508c"  stroke="#32508c" stroke-width="0.07">37·1%</text>
<text x="182.87" y="447.6" font-size="7.28" text-anchor="start" font-weight="normal" fill="#b3133c"  stroke="#b3133c" stroke-width="0.07">Median: not reached</text>
<text x="181.56" y="505.5" font-size="7.33" text-anchor="start" font-weight="normal" fill="#32508c"  stroke="#32508c" stroke-width="0.07">Median: 26·9 months</text>
<text x="182.1" y="514.5" font-size="7.42" text-anchor="start" font-weight="normal" fill="#32508c"  stroke="#32508c" stroke-width="0.07">(95% CI, 25·0–29·0)</text>
<text x="64.92" y="532.0" font-size="7.25" text-anchor="start" font-weight="normal" fill="#1a1a1a"  stroke="#1a1a1a" stroke-width="0.14">p&lt;0·001</text>
<text x="49.14" y="579.5" font-size="7.67" text-anchor="start" font-weight="normal" fill="#1a1a1a"  stroke="#1a1a1a" stroke-width="0.14">Number at risk</text>
<text x="17.66" y="591.8" font-size="7.36" text-anchor="start" font-weight="normal" fill="#b3133c"  stroke="#b3133c" stroke-width="0.07">MRD-</text>
<text x="14.63" y="603.3" font-size="7.7" text-anchor="start" font-weight="normal" fill="#32508c"  stroke="#32508c" stroke-width="0.07">MRD+</text>
<text x="52.0" y="591.8" font-size="7.95" text-anchor="middle" font-weight="normal" fill="#1a1a1a"  stroke="#1a1a1a" stroke-width="0.14">291</text>
<text x="52.0" y="603.3" font-size="7.95" text-anchor="middle" font-weight="normal" fill="#1a1a1a"  stroke="#1a1a1a" stroke-width="0.14">1328</text>
<text x="71.11" y="591.8" font-size="7.95" text-anchor="middle" font-weight="normal" fill="#1a1a1a"  stroke="#1a1a1a" stroke-width="0.14">290</text>
<text x="71.11" y="603.3" font-size="7.95" text-anchor="middle" font-weight="normal" fill="#1a1a1a"  stroke="#1a1a1a" stroke-width="0.14">1126</text>
<text x="90.22" y="591.8" font-size="7.95" text-anchor="middle" font-weight="normal" fill="#1a1a1a"  stroke="#1a1a1a" stroke-width="0.14">283</text>
<text x="90.22" y="603.3" font-size="7.95" text-anchor="middle" font-weight="normal" fill="#1a1a1a"  stroke="#1a1a1a" stroke-width="0.14">983</text>
<text x="109.33" y="591.8" font-size="7.95" text-anchor="middle" font-weight="normal" fill="#1a1a1a"  stroke="#1a1a1a" stroke-width="0.14">274</text>
<text x="109.33" y="603.3" font-size="7.95" text-anchor="middle" font-weight="normal" fill="#1a1a1a"  stroke="#1a1a1a" stroke-width="0.14">782</text>
<text x="128.44" y="591.8" font-size="7.95" text-anchor="middle" font-weight="normal" fill="#1a1a1a"  stroke="#1a1a1a" stroke-width="0.14">217</text>
<text x="128.44" y="603.3" font-size="7.95" text-anchor="middle" font-weight="normal" fill="#1a1a1a"  stroke="#1a1a1a" stroke-width="0.14">516</text>
<text x="147.55" y="591.8" font-size="7.95" text-anchor="middle" font-weight="normal" fill="#1a1a1a"  stroke="#1a1a1a" stroke-width="0.14">139</text>
<text x="147.55" y="603.3" font-size="7.95" text-anchor="middle" font-weight="normal" fill="#1a1a1a"  stroke="#1a1a1a" stroke-width="0.14">268</text>
<text x="166.66" y="591.8" font-size="7.95" text-anchor="middle" font-weight="normal" fill="#1a1a1a"  stroke="#1a1a1a" stroke-width="0.14">93</text>
<text x="166.66" y="603.3" font-size="7.95" text-anchor="middle" font-weight="normal" fill="#1a1a1a"  stroke="#1a1a1a" stroke-width="0.14">133</text>
<text x="185.77" y="591.8" font-size="7.95" text-anchor="middle" font-weight="normal" fill="#1a1a1a"  stroke="#1a1a1a" stroke-width="0.14">30</text>
<text x="185.77" y="603.3" font-size="7.95" text-anchor="middle" font-weight="normal" fill="#1a1a1a"  stroke="#1a1a1a" stroke-width="0.14">48</text>
<text x="204.88" y="591.8" font-size="7.95" text-anchor="middle" font-weight="normal" fill="#1a1a1a"  stroke="#1a1a1a" stroke-width="0.14">4</text>
<text x="204.88" y="603.3" font-size="7.95" text-anchor="middle" font-weight="normal" fill="#1a1a1a"  stroke="#1a1a1a" stroke-width="0.14">5</text>
<text x="223.99" y="591.8" font-size="7.95" text-anchor="middle" font-weight="normal" fill="#1a1a1a"  stroke="#1a1a1a" stroke-width="0.14">0</text>
<text x="223.99" y="603.3" font-size="7.95" text-anchor="middle" font-weight="normal" fill="#1a1a1a"  stroke="#1a1a1a" stroke-width="0.14">0</text>
<text x="243.1" y="591.8" font-size="7.95" text-anchor="middle" font-weight="normal" fill="#1a1a1a"  stroke="#1a1a1a" stroke-width="0.14">0</text>
<text x="243.1" y="603.3" font-size="7.95" text-anchor="middle" font-weight="normal" fill="#1a1a1a"  stroke="#1a1a1a" stroke-width="0.14">0</text>
<line x1="311.4" y1="377.7" x2="311.4" y2="542.4" stroke="#000" stroke-width="1.15" />
<line x1="308.2" y1="379.2" x2="311.4" y2="379.2" stroke="#000" stroke-width="1" />
<text x="305.3" y="382.3" font-size="8.2" text-anchor="end" font-weight="normal" fill="#1a1a1a"  stroke="#1a1a1a" stroke-width="0.14">1·00</text>
<line x1="308.2" y1="419.875" x2="311.4" y2="419.875" stroke="#000" stroke-width="1" />
<text x="305.3" y="422.975" font-size="8.2" text-anchor="end" font-weight="normal" fill="#1a1a1a"  stroke="#1a1a1a" stroke-width="0.14">0·75</text>
<line x1="308.2" y1="460.54999999999995" x2="311.4" y2="460.54999999999995" stroke="#000" stroke-width="1" />
<text x="305.3" y="463.65" font-size="8.2" text-anchor="end" font-weight="normal" fill="#1a1a1a"  stroke="#1a1a1a" stroke-width="0.14">0·50</text>
<line x1="308.2" y1="501.22499999999997" x2="311.4" y2="501.22499999999997" stroke="#000" stroke-width="1" />
<text x="305.3" y="504.325" font-size="8.2" text-anchor="end" font-weight="normal" fill="#1a1a1a"  stroke="#1a1a1a" stroke-width="0.14">0·25</text>
<line x1="308.2" y1="541.9" x2="311.4" y2="541.9" stroke="#000" stroke-width="1" />
<text x="305.3" y="545.0" font-size="8.2" text-anchor="end" font-weight="normal" fill="#1a1a1a"  stroke="#1a1a1a" stroke-width="0.14">0·00</text>
<line x1="310.9" y1="541.9" x2="506.7" y2="541.9" stroke="#3a3a3a" stroke-width="1.9" />
<line x1="311.4" y1="541.9" x2="311.4" y2="544.9" stroke="#000" stroke-width="1" />
<text x="311.4" y="554.9" font-size="8.2" text-anchor="middle" font-weight="normal" fill="#1a1a1a"  stroke="#1a1a1a" stroke-width="0.14">0</text>
<line x1="329.80199999999996" y1="541.9" x2="329.80199999999996" y2="544.9" stroke="#000" stroke-width="1" />
<text x="329.80199999999996" y="554.9" font-size="8.2" text-anchor="middle" font-weight="normal" fill="#1a1a1a"  stroke="#1a1a1a" stroke-width="0.14">6</text>
<line x1="348.20399999999995" y1="541.9" x2="348.20399999999995" y2="544.9" stroke="#000" stroke-width="1" />
<text x="348.20399999999995" y="554.9" font-size="8.2" text-anchor="middle" font-weight="normal" fill="#1a1a1a"  stroke="#1a1a1a" stroke-width="0.14">12</text>
<line x1="366.606" y1="541.9" x2="366.606" y2="544.9" stroke="#000" stroke-width="1" />
<text x="366.606" y="554.9" font-size="8.2" text-anchor="middle" font-weight="normal" fill="#1a1a1a"  stroke="#1a1a1a" stroke-width="0.14">18</text>
<line x1="385.008" y1="541.9" x2="385.008" y2="544.9" stroke="#000" stroke-width="1" />
<text x="385.008" y="554.9" font-size="8.2" text-anchor="middle" font-weight="normal" fill="#1a1a1a"  stroke="#1a1a1a" stroke-width="0.14">24</text>
<line x1="403.40999999999997" y1="541.9" x2="403.40999999999997" y2="544.9" stroke="#000" stroke-width="1" />
<text x="403.40999999999997" y="554.9" font-size="8.2" text-anchor="middle" font-weight="normal" fill="#1a1a1a"  stroke="#1a1a1a" stroke-width="0.14">30</text>
<line x1="421.812" y1="541.9" x2="421.812" y2="544.9" stroke="#000" stroke-width="1" />
<text x="421.812" y="554.9" font-size="8.2" text-anchor="middle" font-weight="normal" fill="#1a1a1a"  stroke="#1a1a1a" stroke-width="0.14">36</text>
<line x1="440.214" y1="541.9" x2="440.214" y2="544.9" stroke="#000" stroke-width="1" />
<text x="440.214" y="554.9" font-size="8.2" text-anchor="middle" font-weight="normal" fill="#1a1a1a"  stroke="#1a1a1a" stroke-width="0.14">42</text>
<line x1="458.616" y1="541.9" x2="458.616" y2="544.9" stroke="#000" stroke-width="1" />
<text x="458.616" y="554.9" font-size="8.2" text-anchor="middle" font-weight="normal" fill="#1a1a1a"  stroke="#1a1a1a" stroke-width="0.14">48</text>
<line x1="477.018" y1="541.9" x2="477.018" y2="544.9" stroke="#000" stroke-width="1" />
<text x="477.018" y="554.9" font-size="8.2" text-anchor="middle" font-weight="normal" fill="#1a1a1a"  stroke="#1a1a1a" stroke-width="0.14">54</text>
<line x1="495.41999999999996" y1="541.9" x2="495.41999999999996" y2="544.9" stroke="#000" stroke-width="1" />
<text x="495.41999999999996" y="554.9" font-size="8.2" text-anchor="middle" font-weight="normal" fill="#1a1a1a"  stroke="#1a1a1a" stroke-width="0.14">60</text>
<line x1="309.5" y1="460.54999999999995" x2="507" y2="460.54999999999995" stroke="#4a4a4a" stroke-width="1.6" stroke-dasharray="3.5,1.9"/>
<line x1="421.9" y1="541.9" x2="421.9" y2="389.3" stroke="#4a4a4a" stroke-width="1.6" stroke-dasharray="3.3,2.08"/>
<text transform="translate(409.0,567.7) scale(0.71,1)" x="0" y="0" font-size="9.3" text-anchor="middle" fill="#1a1a1a" stroke="#1a1a1a" stroke-width="0.32">Time, months</text>
<text transform="translate(283.1,458.6) rotate(-90) scale(0.60,1)" x="0" y="0" font-size="10.8" text-anchor="middle" fill="#1a1a1a" stroke="#1a1a1a" stroke-width="0.22">PFS probability</text>
<line x1="352.0" y1="369.3" x2="357.6" y2="369.3" stroke="#a8102f" stroke-width="1.4" />
<text x="360.46" y="371.2" font-size="7.37" text-anchor="start" font-weight="normal" fill="#1a1a1a"  stroke="#1a1a1a" stroke-width="0.14">MRD negative</text>
<line x1="413.0" y1="369.3" x2="419.4" y2="369.3" stroke="#3a5a98" stroke-width="1.4" />
<text x="422.16" y="371.2" font-size="7.37" text-anchor="start" font-weight="normal" fill="#1a1a1a"  stroke="#1a1a1a" stroke-width="0.14">MRD positive</text>
<polyline points="311.4,379.3 336.3,379.4 336.8,381.0 337.3,380.5 339.1,381.8 341.4,381.5 342.8,382.4 345.4,382.7 346.0,384.4 348.3,385.0 349.2,387.3 351.1,388.2 354.2,389.7 355.7,391.2 360.3,391.7 363.4,393.5 368.0,394.8 371.1,395.8 375.7,395.8 378.8,398.2 383.4,400.5 387.6,401.9 390.7,405.0 395.3,408.8 398.4,411.2 401.5,413.9 406.1,415.8 409.9,418.8 415.3,420.7 420.7,422.7 422.2,425.8 429.2,426.2 432.2,427.8 436.1,428.8 438.4,431.2 441.5,433.5 446.1,435.0 451.5,435.8 453.0,438.6 493.8,438.6" fill="none" stroke="#a8102f" stroke-width="1.85" stroke-linejoin="round" stroke-linecap="round"/>
<polyline points="311.4,378.9 314.9,385.8 318.8,393.5 320.3,397.4 323.4,405.1 327.2,414.3 331.1,422.8 334.9,431.2 339.5,440.5 343.1,448.5 346.2,453.8 350.8,458.5 355.4,463.8 360.0,470.0 363.1,471.5 366.2,475.4 370.8,479.2 373.8,481.8 378.5,484.6 383.1,488.0 387.7,490.8 392.3,492.3 396.9,494.6 401.5,496.6 407.7,500.0 414.6,501.5 417.7,503.4 421.5,503.8 423.8,505.4 430.0,506.9 436.9,507.7 439.2,509.2 445.4,510.5 454.6,511.5 456.2,512.0 493.5,511.9" fill="none" stroke="#233f78" stroke-width="1.9" stroke-linejoin="round" stroke-linecap="round"/>
<path d="M322.9,378.0V380.6" stroke="#a8102f" stroke-width="0.9" fill="none"/>
<path d="M337.5,379.3V382.1M339.4,380.4V383.2M349.1,385.7V388.5M352.1,387.3V390.1M354.5,388.6V391.4M361.1,390.8V393.6M364.6,392.4V395.2M368.4,393.5V396.3M390.0,402.9V405.7M390.4,403.3V406.1M399.1,410.4V413.2M402.6,412.9V415.7M408.3,416.1V418.9M411.3,417.9V420.7M421.8,423.6V426.4M422.0,424.1V426.9M424.8,424.5V427.3M428.2,424.7V427.5M428.5,424.8V427.6M440.5,431.4V434.2M442.3,432.4V435.2M443.0,432.6V435.4M445.3,433.3V436.1M445.4,433.4V436.2" stroke="#a8102f" stroke-width="0.9" fill="none"/>
<path d="M456.0,437.2V440.0M460.0,437.2V440.0M466.0,437.2V440.0M476.0,437.2V440.0M493.3,437.2V440.0" stroke="#a8102f" stroke-width="0.9" fill="none"/>
<path d="M315.1,384.6V387.6M328.0,414.6V417.6M328.1,414.8V417.8M342.0,444.6V447.6M342.6,445.9V448.9M343.1,447.0V450.0M351.6,458.0V461.0M352.2,458.6V461.6M353.2,459.7V462.7M355.8,462.8V465.8M362.0,469.5V472.5M367.2,474.8V477.8M373.0,479.6V482.6M377.3,482.4V485.4M380.8,484.8V487.8M382.9,486.4V489.4M390.4,490.2V493.2M392.5,490.9V493.9M397.4,493.3V496.3M403.9,496.4V499.4M407.8,498.5V501.5M410.5,499.1V502.1M411.0,499.2V502.2M417.2,501.6V504.6M421.4,502.3V505.3M422.8,503.2V506.2M426.1,504.4V507.4M427.0,504.7V507.7M427.3,504.7V507.7M427.5,504.8V507.8M427.7,504.8V507.8M427.7,504.8V507.8M430.1,505.4V508.4M433.2,505.8V508.8M448.2,509.3V512.3" stroke="#233f78" stroke-width="0.9" fill="none"/>
<path d="M462.0,510.6V513.4M469.0,510.6V513.4M481.0,510.5V513.3M493.0,510.5V513.3" stroke="#233f78" stroke-width="0.9" fill="none"/>
<text x="424.68" y="420.7" font-size="7.4" text-anchor="start" font-weight="normal" fill="#b3133c"  stroke="#b3133c" stroke-width="0.07">71·8%</text>
<text x="424.47" y="498.8" font-size="7.4" text-anchor="start" font-weight="normal" fill="#32508c"  stroke="#32508c" stroke-width="0.07">23·4%</text>
<text x="445.47" y="449.3" font-size="7.28" text-anchor="start" font-weight="normal" fill="#b3133c"  stroke="#b3133c" stroke-width="0.07">Median: not reached</text>
<text x="444.57" y="522.7" font-size="7.3" text-anchor="start" font-weight="normal" fill="#32508c"  stroke="#32508c" stroke-width="0.07">Median: 13·8 months</text>
<text x="444.7" y="531.9" font-size="7.45" text-anchor="start" font-weight="normal" fill="#32508c"  stroke="#32508c" stroke-width="0.07">(95% CI, 11·8–14·7)</text>
<text x="325.21" y="532.8" font-size="7.27" text-anchor="start" font-weight="normal" fill="#1a1a1a"  stroke="#1a1a1a" stroke-width="0.14">p&lt;0·001</text>
<text x="308.47" y="580.0" font-size="7.3" text-anchor="start" font-weight="normal" fill="#1a1a1a"  stroke="#1a1a1a" stroke-width="0.14">Number at risk</text>
<text x="279.66" y="591.8" font-size="7.36" text-anchor="start" font-weight="normal" fill="#b3133c"  stroke="#b3133c" stroke-width="0.07">MRD-</text>
<text x="276.63" y="603.3" font-size="7.7" text-anchor="start" font-weight="normal" fill="#32508c"  stroke="#32508c" stroke-width="0.07">MRD+</text>
<text x="311.4" y="591.8" font-size="7.95" text-anchor="middle" font-weight="normal" fill="#1a1a1a"  stroke="#1a1a1a" stroke-width="0.14">164</text>
<text x="311.4" y="603.3" font-size="7.95" text-anchor="middle" font-weight="normal" fill="#1a1a1a"  stroke="#1a1a1a" stroke-width="0.14">960</text>
<text x="329.80199999999996" y="591.8" font-size="7.95" text-anchor="middle" font-weight="normal" fill="#1a1a1a"  stroke="#1a1a1a" stroke-width="0.14">163</text>
<text x="329.80199999999996" y="603.3" font-size="7.95" text-anchor="middle" font-weight="normal" fill="#1a1a1a"  stroke="#1a1a1a" stroke-width="0.14">672</text>
<text x="348.20399999999995" y="591.8" font-size="7.95" text-anchor="middle" font-weight="normal" fill="#1a1a1a"  stroke="#1a1a1a" stroke-width="0.14">155</text>
<text x="348.20399999999995" y="603.3" font-size="7.95" text-anchor="middle" font-weight="normal" fill="#1a1a1a"  stroke="#1a1a1a" stroke-width="0.14">456</text>
<text x="366.606" y="591.8" font-size="7.95" text-anchor="middle" font-weight="normal" fill="#1a1a1a"  stroke="#1a1a1a" stroke-width="0.14">142</text>
<text x="366.606" y="603.3" font-size="7.95" text-anchor="middle" font-weight="normal" fill="#1a1a1a"  stroke="#1a1a1a" stroke-width="0.14">343</text>
<text x="385.008" y="591.8" font-size="7.95" text-anchor="middle" font-weight="normal" fill="#1a1a1a"  stroke="#1a1a1a" stroke-width="0.14">135</text>
<text x="385.008" y="603.3" font-size="7.95" text-anchor="middle" font-weight="normal" fill="#1a1a1a"  stroke="#1a1a1a" stroke-width="0.14">269</text>
<text x="403.40999999999997" y="591.8" font-size="7.95" text-anchor="middle" font-weight="normal" fill="#1a1a1a"  stroke="#1a1a1a" stroke-width="0.14">114</text>
<text x="403.40999999999997" y="603.3" font-size="7.95" text-anchor="middle" font-weight="normal" fill="#1a1a1a"  stroke="#1a1a1a" stroke-width="0.14">214</text>
<text x="421.812" y="591.8" font-size="7.95" text-anchor="middle" font-weight="normal" fill="#1a1a1a"  stroke="#1a1a1a" stroke-width="0.14">97</text>
<text x="421.812" y="603.3" font-size="7.95" text-anchor="middle" font-weight="normal" fill="#1a1a1a"  stroke="#1a1a1a" stroke-width="0.14">179</text>
<text x="440.214" y="591.8" font-size="7.95" text-anchor="middle" font-weight="normal" fill="#1a1a1a"  stroke="#1a1a1a" stroke-width="0.14">74</text>
<text x="440.214" y="603.3" font-size="7.95" text-anchor="middle" font-weight="normal" fill="#1a1a1a"  stroke="#1a1a1a" stroke-width="0.14">131</text>
<text x="458.616" y="591.8" font-size="7.95" text-anchor="middle" font-weight="normal" fill="#1a1a1a"  stroke="#1a1a1a" stroke-width="0.14">10</text>
<text x="458.616" y="603.3" font-size="7.95" text-anchor="middle" font-weight="normal" fill="#1a1a1a"  stroke="#1a1a1a" stroke-width="0.14">11</text>
<text x="477.018" y="591.8" font-size="7.95" text-anchor="middle" font-weight="normal" fill="#1a1a1a"  stroke="#1a1a1a" stroke-width="0.14">4</text>
<text x="477.018" y="603.3" font-size="7.95" text-anchor="middle" font-weight="normal" fill="#1a1a1a"  stroke="#1a1a1a" stroke-width="0.14">2</text>
<text x="495.41999999999996" y="591.8" font-size="7.95" text-anchor="middle" font-weight="normal" fill="#1a1a1a"  stroke="#1a1a1a" stroke-width="0.14">0</text>
<text x="495.41999999999996" y="603.3" font-size="7.95" text-anchor="middle" font-weight="normal" fill="#1a1a1a"  stroke="#1a1a1a" stroke-width="0.14">0</text>
</svg>
</body></html>
